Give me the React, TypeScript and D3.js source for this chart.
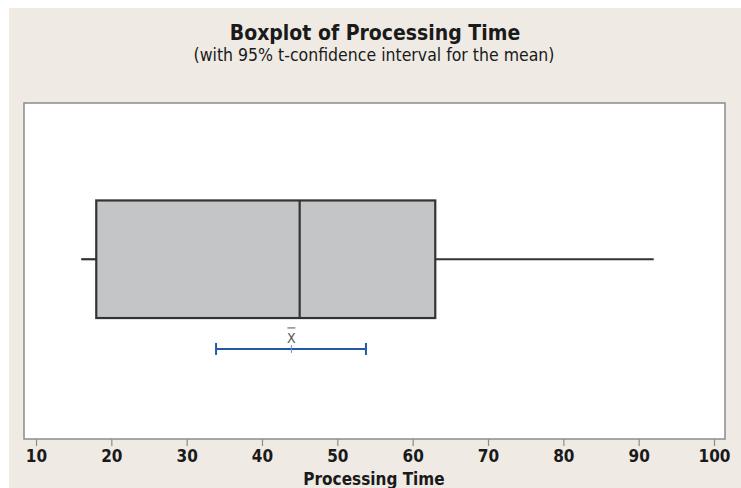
import React, { useEffect, useRef } from 'react';
import * as d3 from 'd3';

const xTicks = [10, 20, 30, 40, 50, 60, 70, 80, 90, 100];
const boxStats = { whiskerLow: 16, q1: 18, median: 45, q3: 63, whiskerHigh: 92 };
const meanCI = { low: 33.9, mean: 43.9, high: 53.8 };
const titleText = 'Boxplot of Processing Time';
const subtitleText = '(with 95% t-confidence interval for the mean)';
const xLabel = 'Processing Time';

const W = 741;
const H = 488;
const frame = { left: 24, right: 725, top: 103, bottom: 439 };
const font = '"DejaVu Sans Condensed", "DejaVu Sans", sans-serif';

const App = () => {
  const svgRef = useRef<SVGSVGElement>(null);

  useEffect(() => {
    const svg = d3.select(svgRef.current);
    svg.selectAll('*').remove();

    const x = d3.scaleLinear().domain([10, 100]).range([36, 714]);
    const y = d3.scaleLinear().domain([0, 1]).range([frame.bottom, frame.top]);

    svg.append('rect').attr('width', W).attr('height', H).attr('fill', '#ffffff');
    svg.append('rect').attr('x', 9).attr('y', 8).attr('width', W - 9).attr('height', H - 8).attr('fill', '#efebe4');

    svg
      .append('rect')
      .attr('x', frame.left)
      .attr('y', frame.top)
      .attr('width', frame.right - frame.left)
      .attr('height', frame.bottom - frame.top)
      .attr('fill', '#ffffff')
      .attr('stroke', '#8c8c8c')
      .attr('stroke-width', 1.5);

    svg
      .append('text')
      .attr('x', 375)
      .attr('y', 40)
      .attr('text-anchor', 'middle')
      .attr('font-family', font)
      .attr('font-weight', 'bold')
      .attr('font-size', 21)
      .attr('fill', '#1a1a1a')
      .text(titleText);
    svg
      .append('text')
      .attr('x', 374)
      .attr('y', 61)
      .attr('text-anchor', 'middle')
      .attr('font-family', font)
      .attr('font-size', 17.5)
      .attr('fill', '#1a1a1a')
      .text(subtitleText);

    // x axis
    const xAxis = d3.axisBottom(x).tickValues(xTicks).tickSize(7).tickPadding(4).tickFormat(d3.format('d'));
    const ax = svg.append('g').attr('transform', `translate(0,${frame.bottom})`).call(xAxis);
    ax.select('.domain').remove();
    ax.selectAll('line').attr('stroke', '#8c8c8c').attr('stroke-width', 1.2);
    ax.selectAll('text')
      .attr('font-family', font)
      .attr('font-weight', 'bold')
      .attr('font-size', 17)
      .attr('fill', '#1a1a1a');

    svg
      .append('text')
      .attr('x', 374)
      .attr('y', 485)
      .attr('text-anchor', 'middle')
      .attr('font-family', font)
      .attr('font-weight', 'bold')
      .attr('font-size', 17)
      .attr('fill', '#1a1a1a')
      .text(xLabel);

    // boxplot
    const boxTop = y(0.71);
    const boxBottom = y(0.36);
    const mid = (boxTop + boxBottom) / 2;
    const g = svg.append('g').attr('stroke', '#333333').attr('stroke-width', 2.2);
    g.append('line').attr('x1', x(boxStats.whiskerLow)).attr('x2', x(boxStats.q1)).attr('y1', mid).attr('y2', mid);
    g.append('line').attr('x1', x(boxStats.q3)).attr('x2', x(boxStats.whiskerHigh)).attr('y1', mid).attr('y2', mid);
    g.append('rect')
      .attr('x', x(boxStats.q1))
      .attr('y', boxTop)
      .attr('width', x(boxStats.q3) - x(boxStats.q1))
      .attr('height', boxBottom - boxTop)
      .attr('fill', '#c4c5c7');
    g.append('line').attr('x1', x(boxStats.median)).attr('x2', x(boxStats.median)).attr('y1', boxTop).attr('y2', boxBottom);

    // mean CI
    const ciY = y(0.268);
    const ci = svg.append('g').attr('stroke', '#2459a8').attr('stroke-width', 2);
    ci.append('line').attr('x1', x(meanCI.low)).attr('x2', x(meanCI.high)).attr('y1', ciY).attr('y2', ciY);
    ci.append('line').attr('x1', x(meanCI.low)).attr('x2', x(meanCI.low)).attr('y1', ciY - 6).attr('y2', ciY + 6);
    ci.append('line').attr('x1', x(meanCI.high)).attr('x2', x(meanCI.high)).attr('y1', ciY - 6).attr('y2', ciY + 6);
    svg
      .append('line')
      .attr('x1', x(meanCI.mean))
      .attr('x2', x(meanCI.mean))
      .attr('y1', ciY - 4)
      .attr('y2', ciY + 4)
      .attr('stroke', '#6f8fc4')
      .attr('stroke-width', 1);
    svg
      .append('text')
      .attr('x', x(meanCI.mean))
      .attr('y', ciY - 6)
      .attr('text-anchor', 'middle')
      .attr('font-family', font)
      .attr('font-size', 14)
      .attr('fill', '#555555')
      .text('X');
    svg
      .append('line')
      .attr('x1', x(meanCI.mean) - 4)
      .attr('x2', x(meanCI.mean) + 4)
      .attr('y1', ciY - 21)
      .attr('y2', ciY - 21)
      .attr('stroke', '#555555')
      .attr('stroke-width', 1);
  }, []);

  return (
    <svg
      ref={svgRef}
      width={W}
      height={H}
      style={{ position: 'absolute', left: 0, top: 0, display: 'block' }}
    ></svg>
  );
};

export default App;
